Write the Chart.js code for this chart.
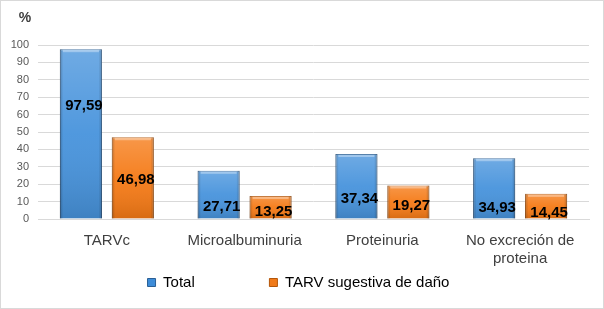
<!DOCTYPE html>
<html>
<head>
<meta charset="utf-8">
<script src="https://cdn.jsdelivr.net/npm/chart.js@4"></script>
<style>
  html, body { margin: 0; padding: 0; background: #fff; }
  #wrap { width: 604px; height: 309px; box-sizing: border-box; border: 1px solid #d9d9d9; }
  canvas { display: block; }
</style>
</head>
<body>
<div id="wrap"><canvas id="chart" width="602" height="307"></canvas></div>
<script>
// datos
const categories = ['TARVc', 'Microalbuminuria', 'Proteinuria', ['No excreción de', 'proteina']];
const total = [97.59, 27.71, 37.34, 34.93];
const tarvDano = [46.98, 13.25, 19.27, 14.45];
const yTicks = [0, 10, 20, 30, 40, 50, 60, 70, 80, 90, 100];

// altura (en % del eje) donde Excel dejó cada etiqueta
const labelAt = [
  [65, 7, 11.4, 6.3],
  [22.4, 4, 7.4, 3.4],
];

const fmt = v => v.toFixed(2).replace('.', ',');

// sombreado tipo Excel encima de cada barra
const bevel = {
  id: 'bevel',
  afterDatasetsDraw(chart) {
    const ctx = chart.ctx;
    ctx.save();
    chart.data.datasets.forEach((ds, di) => {
      chart.getDatasetMeta(di).data.forEach(bar => {
        const l = bar.x - bar.width / 2;
        const r = bar.x + bar.width / 2;
        const t = bar.y;
        const b = bar.base;
        let g = ctx.createLinearGradient(0, t, 0, b);
        g.addColorStop(0, 'rgba(255,255,255,0.22)');
        g.addColorStop(0.5, 'rgba(255,255,255,0.05)');
        g.addColorStop(1, 'rgba(0,0,0,0.12)');
        ctx.fillStyle = g;
        ctx.fillRect(l, t, r - l, b - t);
        g = ctx.createLinearGradient(l, 0, r, 0);
        g.addColorStop(0, 'rgba(0,0,0,0.22)');
        g.addColorStop(0.08, 'rgba(0,0,0,0)');
        g.addColorStop(0.92, 'rgba(0,0,0,0)');
        g.addColorStop(1, 'rgba(0,0,0,0.22)');
        ctx.fillStyle = g;
        ctx.fillRect(l, t, r - l, b - t);
        ctx.fillStyle = 'rgba(255,255,255,0.35)';
        ctx.fillRect(l + 3, t + 1, r - l - 6, 2);
      });
    });
    ctx.restore();
  },
};

const valueLabels = {
  id: 'valueLabels',
  afterDatasetsDraw(chart) {
    const ctx = chart.ctx;
    const y = chart.scales.y;
    ctx.save();
    ctx.font = 'bold 15px "Liberation Sans", Arial, sans-serif';
    ctx.fillStyle = '#000';
    ctx.textAlign = 'center';
    ctx.textBaseline = 'middle';
    chart.data.datasets.forEach((ds, di) => {
      chart.getDatasetMeta(di).data.forEach((bar, i) => {
        ctx.fillText(fmt(ds.data[i]), bar.x + 3, y.getPixelForValue(labelAt[di][i]));
      });
    });
    ctx.restore();
  },
};

const percentTitle = {
  id: 'percentTitle',
  afterDraw(chart) {
    const ctx = chart.ctx;
    ctx.save();
    ctx.font = 'bold 14px "Liberation Sans", Arial, sans-serif';
    ctx.fillStyle = '#404040';
    ctx.textAlign = 'center';
    ctx.textBaseline = 'middle';
    ctx.fillText('%', 24, 17);
    ctx.restore();
  },
};

const config = {
  type: 'bar',
  data: {
    labels: categories,
    datasets: [
      {
        label: 'Total',
        data: total,
        backgroundColor: '#4793dc',
        borderColor: '#2a5f95',
        borderWidth: 1,
        categoryPercentage: 0.754,
        barPercentage: 0.81,
      },
      {
        label: 'TARV sugestiva de daño',
        data: tarvDano,
        backgroundColor: '#f57a16',
        borderColor: '#b4560a',
        borderWidth: 1,
        categoryPercentage: 0.754,
        barPercentage: 0.81,
      },
    ],
  },
  options: {
    responsive: false,
    animation: false,
    layout: {
      padding: { left: 7, right: 14, top: 44, bottom: 8 },
    },
    plugins: {
      title: { display: false },
      tooltip: { enabled: false },
      legend: {
        position: 'bottom',
        labels: {
          boxWidth: 8,
          boxHeight: 8,
          padding: 8,
          color: '#404040',
          font: { family: '"Liberation Sans", Arial, sans-serif', size: 15 },
          generateLabels(chart) {
            return chart.data.datasets.map((ds, i) => ({
              text: i === 0 ? ds.label + '                ' : ds.label,
              fillStyle: i === 0 ? '#3d8cd8' : '#f07a1a',
              strokeStyle: i === 0 ? '#2a5f95' : '#b4560a',
              lineWidth: 1,
              datasetIndex: i,
            }));
          },
        },
      },
    },
    scales: {
      x: {
        grid: { display: false, drawTicks: false },
        border: { color: '#d9d9d9' },
        afterFit(axis) { axis.height = 48; },
        ticks: {
          color: '#404040',
          padding: 13,
          maxRotation: 0,
          autoSkip: false,
          font: { family: '"Liberation Sans", Arial, sans-serif', size: 15 },
        },
      },
      y: {
        min: 0,
        max: 100,
        afterBuildTicks(axis) {
          axis.ticks = yTicks.map(v => ({ value: v }));
        },
        afterFit(axis) { axis.width = 30; },
        grid: { color: '#d9d9d9', drawTicks: false },
        border: { display: false },
        ticks: {
          color: '#595959',
          padding: 9,
          autoSkip: false,
          font: { family: '"Liberation Sans", Arial, sans-serif', size: 11 },
        },
      },
    },
  },
  plugins: [bevel, valueLabels, percentTitle],
};

const barChart = new Chart(document.getElementById('chart'), config);
</script>
</body>
</html>
